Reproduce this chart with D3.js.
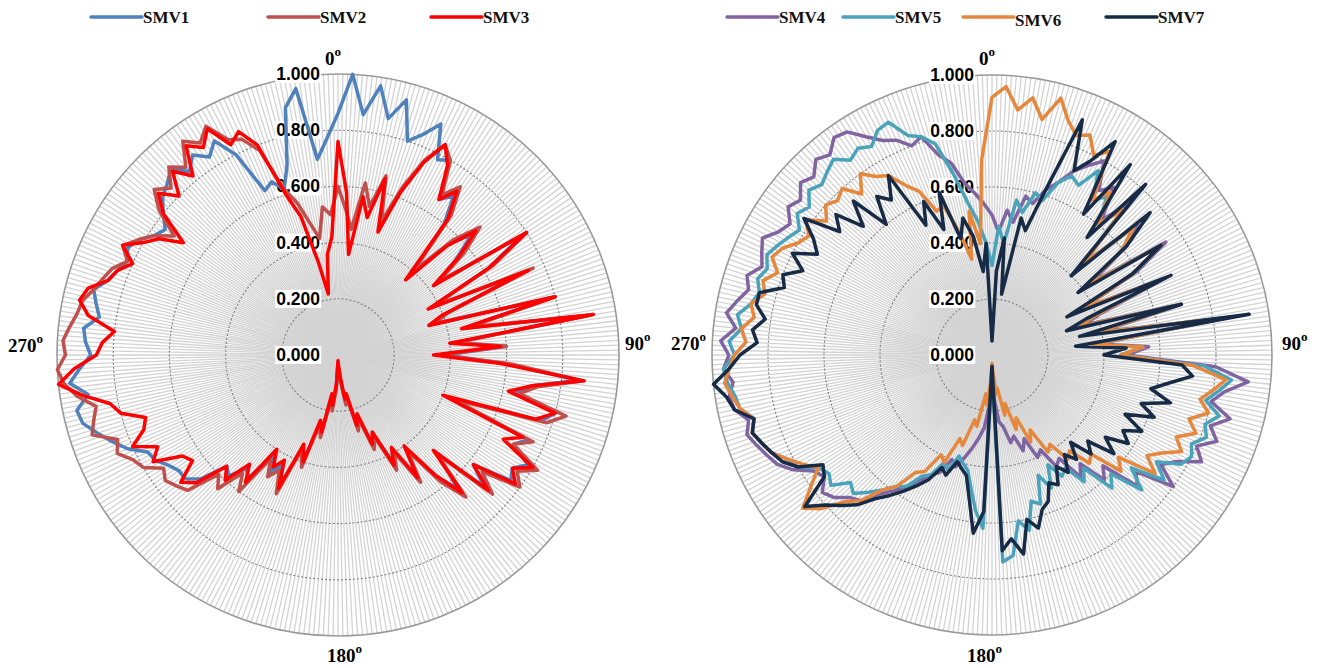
<!DOCTYPE html>
<html><head><meta charset="utf-8">
<script src="https://cdn.jsdelivr.net/npm/d3@7"></script>
<style>body{margin:0;background:#fff}</style>
</head><body><svg id="c" width="1325" height="668"></svg>
<script>
// ---- data (one value every 3 degrees, 0..357) ----
const angles = d3.range(0, 360, 3);
const tickValues = [0, 0.2, 0.4, 0.6, 0.8, 1.0];
const tickLabels = ["0.000", "0.200", "0.400", "0.600", "0.800", "1.000"];
const dirValues = [0, 90, 180, 270];
const leftNames = ["SMV1", "SMV2", "SMV3"];
const rightNames = ["SMV4", "SMV5", "SMV6", "SMV7"];

const smv1 = [
  0.86,1.00,0.86,0.97,0.86,0.94,0.80,0.84,0.90,0.78,
  0.80,0.66,0.70,0.60,0.40,0.56,0.64,0.54,0.44,0.78,
  0.62,0.38,0.72,0.42,0.36,0.78,0.46,0.90,0.42,0.60,
  0.38,0.60,0.86,0.70,0.64,0.80,0.76,0.42,0.74,0.70,
  0.78,0.74,0.76,0.62,0.70,0.50,0.64,0.56,0.42,0.52,
  0.40,0.42,0.32,0.34,0.24,0.26,0.16,0.16,0.10,0.06,
  0.03,0.12,0.18,0.16,0.28,0.26,0.40,0.36,0.50,0.44,
  0.48,0.42,0.54,0.52,0.58,0.56,0.66,0.70,0.70,0.72,
  0.75,0.76,0.82,0.86,0.90,0.94,0.95,0.90,0.96,0.92,
  0.88,0.90,0.91,0.86,0.88,0.90,0.86,0.84,0.82,0.84,
  0.82,0.78,0.76,0.80,0.84,0.86,0.89,0.84,0.88,0.84,
  0.88,0.80,0.64,0.66,0.62,0.70,0.90,0.96,0.70,0.77];
const smv2 = [
  0.60,0.52,0.45,0.62,0.54,0.66,0.50,0.64,0.76,0.84,
  0.80,0.68,0.74,0.64,0.40,0.58,0.68,0.58,0.44,0.80,
  0.64,0.38,0.76,0.42,0.36,0.80,0.48,0.90,0.42,0.60,
  0.36,0.62,0.88,0.72,0.66,0.84,0.78,0.44,0.76,0.70,
  0.82,0.76,0.80,0.66,0.74,0.50,0.68,0.58,0.42,0.54,
  0.40,0.46,0.32,0.36,0.24,0.28,0.16,0.18,0.10,0.05,
  0.03,0.12,0.20,0.16,0.30,0.26,0.42,0.36,0.54,0.46,
  0.50,0.44,0.60,0.54,0.64,0.60,0.72,0.74,0.76,0.74,
  0.80,0.82,0.86,0.84,0.92,0.90,0.88,0.94,0.98,1.00,
  0.97,0.98,0.96,0.94,0.93,0.90,0.88,0.86,0.82,0.86,
  0.82,0.78,0.72,0.82,0.88,0.84,0.90,0.86,0.94,0.90,
  0.94,0.86,0.84,0.78,0.62,0.56,0.48,0.42,0.53,0.50];
const smv3 = [
  0.76,0.58,0.36,0.57,0.50,0.65,0.46,0.62,0.75,0.84,
  0.78,0.66,0.72,0.62,0.36,0.55,0.66,0.55,0.42,0.80,
  0.62,0.36,0.74,0.40,0.34,0.80,0.45,0.92,0.40,0.58,
  0.34,0.58,0.88,0.70,0.62,0.80,0.74,0.40,0.72,0.66,
  0.80,0.74,0.78,0.62,0.72,0.48,0.66,0.55,0.40,0.52,
  0.38,0.44,0.30,0.34,0.22,0.26,0.14,0.16,0.08,0.04,
  0.02,0.10,0.18,0.14,0.28,0.24,0.40,0.34,0.52,0.42,
  0.46,0.40,0.56,0.50,0.60,0.56,0.68,0.72,0.64,0.66,
  0.76,0.72,0.80,0.74,0.72,0.80,0.83,0.92,1.00,0.94,
  0.86,0.84,0.80,0.90,0.94,0.92,0.86,0.84,0.80,0.86,
  0.80,0.76,0.68,0.80,0.86,0.80,0.88,0.82,0.92,0.88,
  0.93,0.84,0.87,0.80,0.60,0.51,0.34,0.22,0.36,0.42];
const smv4 = [
  0.50,0.44,0.52,0.48,0.58,0.56,0.62,0.66,0.72,0.76,
  0.80,0.70,0.74,0.62,0.72,0.46,0.70,0.62,0.44,0.74,
  0.60,0.36,0.68,0.42,0.34,0.70,0.40,0.84,0.38,0.56,
  0.48,0.80,0.92,0.84,0.80,0.88,0.82,0.86,0.80,0.84,
  0.76,0.72,0.80,0.66,0.70,0.56,0.60,0.50,0.54,0.44,
  0.46,0.38,0.40,0.32,0.36,0.30,0.32,0.26,0.24,0.16,
  0.06,0.18,0.26,0.30,0.34,0.38,0.42,0.40,0.46,0.48,
  0.52,0.56,0.60,0.64,0.70,0.72,0.76,0.78,0.74,0.76,
  0.82,0.86,0.88,0.90,0.92,0.90,0.94,0.95,0.93,0.96,
  0.94,0.97,0.92,0.96,0.93,0.90,0.92,0.88,0.90,0.92,
  0.88,0.86,0.90,0.88,0.92,0.90,0.94,0.92,0.96,0.95,
  0.90,0.86,0.84,0.80,0.82,0.74,0.70,0.62,0.58,0.54];
const smv5 = [
  0.32,0.46,0.40,0.56,0.52,0.60,0.58,0.66,0.70,0.68,
  0.76,0.66,0.70,0.60,0.70,0.44,0.68,0.60,0.42,0.72,
  0.58,0.34,0.66,0.40,0.32,0.68,0.38,0.86,0.36,0.54,
  0.46,0.76,0.86,0.82,0.78,0.84,0.80,0.82,0.78,0.80,
  0.78,0.70,0.76,0.64,0.72,0.60,0.64,0.52,0.56,0.48,
  0.50,0.44,0.52,0.46,0.56,0.54,0.64,0.60,0.72,0.74,
  0.06,0.62,0.56,0.48,0.42,0.40,0.38,0.44,0.42,0.48,
  0.50,0.56,0.58,0.62,0.66,0.70,0.68,0.74,0.72,0.74,
  0.80,0.82,0.86,0.88,0.90,0.88,0.92,0.93,0.95,0.96,
  0.92,0.94,0.90,0.92,0.88,0.86,0.88,0.86,0.88,0.86,
  0.84,0.82,0.86,0.84,0.88,0.86,0.88,0.90,0.86,0.88,
  0.86,0.90,0.91,0.84,0.82,0.78,0.66,0.55,0.48,0.40];
const smv6 = [
  0.92,0.96,0.88,0.93,0.86,0.95,0.88,0.84,0.86,0.80,
  0.84,0.66,0.72,0.60,0.70,0.46,0.68,0.60,0.42,0.72,
  0.58,0.36,0.66,0.40,0.32,0.68,0.38,0.86,0.36,0.54,
  0.46,0.72,0.84,0.80,0.76,0.80,0.74,0.78,0.72,0.76,
  0.70,0.66,0.72,0.58,0.62,0.50,0.52,0.44,0.46,0.38,
  0.40,0.30,0.34,0.24,0.28,0.18,0.22,0.12,0.14,0.06,
  0.03,0.10,0.18,0.14,0.26,0.24,0.34,0.32,0.42,0.40,
  0.48,0.50,0.58,0.62,0.70,0.74,0.82,0.87,0.80,0.74,
  0.78,0.82,0.86,0.88,0.90,0.88,0.92,0.94,0.96,0.94,
  0.92,0.88,0.90,0.86,0.88,0.84,0.86,0.82,0.86,0.84,
  0.80,0.78,0.82,0.76,0.80,0.78,0.80,0.74,0.80,0.76,
  0.74,0.68,0.64,0.55,0.56,0.46,0.35,0.52,0.40,0.70];
const smv7 = [
  0.05,0.30,0.42,0.22,0.50,0.46,0.62,0.90,0.72,0.78,
  0.88,0.60,0.84,0.54,0.82,0.40,0.76,0.62,0.38,0.72,
  0.58,0.30,0.70,0.36,0.28,0.70,0.32,0.93,0.30,0.48,
  0.40,0.68,0.72,0.64,0.58,0.66,0.56,0.62,0.52,0.60,
  0.54,0.58,0.50,0.56,0.46,0.50,0.42,0.48,0.44,0.50,
  0.46,0.52,0.50,0.56,0.58,0.64,0.60,0.72,0.66,0.70,
  0.04,0.56,0.64,0.52,0.44,0.42,0.40,0.46,0.44,0.50,
  0.54,0.58,0.62,0.66,0.72,0.76,0.80,0.86,0.74,0.72,
  0.80,0.84,0.86,0.88,0.90,0.88,0.94,0.96,1.00,0.94,
  0.90,0.84,0.86,0.82,0.86,0.86,0.78,0.80,0.74,0.80,
  0.72,0.76,0.83,0.70,0.75,0.65,0.74,0.60,0.70,0.66,
  0.74,0.52,0.60,0.48,0.61,0.43,0.50,0.43,0.30,0.40];

// ---- layout / style ----
const charts = [
  {cx: 338, cy: 355, R: 281, series: [smv1, smv2, smv3], names: leftNames,
   colors: ["#4f81bd", "#c0504d", "#ff0000"],
   legendX: [91, 268, 431], legendDy: [0, 0, 0],
   dirPos: [[325, 65], [625, 350], [327, 662], [8, 352]]},
  {cx: 992, cy: 355, R: 280, series: [smv4, smv5, smv6, smv7], names: rightNames,
   colors: ["#8064a2", "#4aa3bb", "#e5883e", "#172b47"],
   legendX: [727, 843, 963, 1106], legendDy: [0, 0, 3, 0],
   dirPos: [[979, 65], [1282, 350], [967, 662], [671, 350]]}
];

const svg = d3.select("#c");
svg.append("rect").attr("width", 1325).attr("height", 668).attr("fill", "#fff");

charts.forEach(cfg => {
  const g = svg.append("g").attr("transform", `translate(${cfg.cx},${cfg.cy})`);
  const r = d3.scaleLinear().domain([0, 1]).range([0, cfg.R]);
  const a = d3.scaleLinear().domain([0, 360]).range([0, 2 * Math.PI]);

  // spokes
  g.selectAll("line.spoke").data(d3.range(360)).join("line")
    .attr("x1", 0).attr("y1", 0)
    .attr("x2", d => r(1) * Math.sin(a(d)))
    .attr("y2", d => -r(1) * Math.cos(a(d)))
    .attr("stroke", "#d3d3d3").attr("stroke-width", 1.3);

  // grid circles
  g.selectAll("circle.grid").data(tickValues.filter(v => v > 0)).join("circle")
    .attr("r", d => r(d)).attr("fill", "none")
    .attr("stroke", d => d === 1 ? "#999" : "#7f7f7f")
    .attr("stroke-width", d => d === 1 ? 1.6 : 1.1)
    .attr("stroke-dasharray", d => d === 1 ? null : "2,2");

  // tick labels with white boxes
  const tl = g.append("g");
  tickValues.forEach((v, i) => {
    const t = tl.append("text").attr("x", -18).attr("y", -r(v))
      .attr("text-anchor", "end").attr("dominant-baseline", "central")
      .attr("font-family", "Liberation Sans, Arial, sans-serif").attr("font-weight", "bold")
      .attr("font-size", 17.5).attr("fill", "#000").text(tickLabels[i]);
    const bb = t.node().getBBox();
    tl.insert("rect", "text").attr("x", bb.x - 1).attr("y", bb.y + 1)
      .attr("width", bb.width + 2).attr("height", bb.height - 2).attr("fill", "#fff");
  });

  // series
  const line = d3.lineRadial()
    .angle((d, i) => a(angles[i]))
    .radius(d => r(d))
    .curve(d3.curveLinearClosed);
  cfg.series.forEach((s, k) => {
    g.append("path").attr("d", line(s)).attr("fill", "none")
      .attr("stroke", cfg.colors[k]).attr("stroke-width", 3.5)
      .attr("stroke-linejoin", "round");
  });

  // direction labels
  dirValues.forEach((d, i) => {
    const t = svg.append("text").attr("x", cfg.dirPos[i][0]).attr("y", cfg.dirPos[i][1])
      .attr("font-family", "Liberation Serif, Times New Roman, serif").attr("font-weight", "bold")
      .attr("font-size", 19).attr("fill", "#000");
    t.append("tspan").text(d);
    t.append("tspan").attr("dy", -9).attr("font-size", 13).text("o");
  });

  // legend
  cfg.names.forEach((n, k) => {
    const x = cfg.legendX[k], y = 17 + cfg.legendDy[k];
    svg.append("line").attr("x1", x).attr("x2", x + 51).attr("y1", 17).attr("y2", 17)
      .attr("stroke", cfg.colors[k]).attr("stroke-width", 3.4).attr("stroke-linecap", "round");
    svg.append("text").attr("x", x + 52).attr("y", y + 6)
      .attr("font-family", "Liberation Serif, Times New Roman, serif").attr("font-weight", "bold")
      .attr("font-size", 17).attr("fill", "#111").text(n);
  });
});
</script></body></html>
